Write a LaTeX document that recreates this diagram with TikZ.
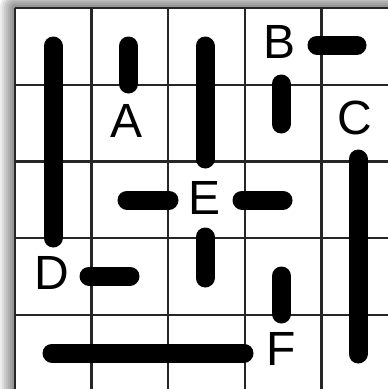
\documentclass[tikz,border=0pt]{standalone}
\usepackage{fontspec}
\setmainfont{Liberation Sans}
\tikzset{
  bar/.style={line width=19pt, line cap=round},
  gridline/.style={line width=2.4pt, black!85},
  lbl/.style={font=\fontsize{48}{48}\selectfont, inner sep=0pt}
}
\begin{document}
\begin{tikzpicture}[x=1pt,y=-1pt]
\useasboundingbox (0,0) rectangle (388,389);
\clip (0,0) rectangle (388,389);
\fill[white] (0,0) rectangle (388,389);
% soft shadow
\foreach \k in {15,13,...,1} {
  \fill[black, opacity=0.07, rounded corners=\k pt] (15-\k,8-\k) rectangle (420,420);
}
\fill[white] (15,8) rectangle (420,420);
% grid
\foreach \i in {0,...,5} {
  \draw[gridline] (15+76.6*\i,8) -- (15+76.6*\i,420);
  \draw[gridline] (15,8+76.7*\i) -- (420,8+76.7*\i);
}
% labels
\node[lbl] (A) at (127,121) {A};
\node[lbl] (B) at (280,42) {B};
\node[lbl] (C) at (355,118) {C};
\node[lbl] (D) at (52,273) {D};
\node[lbl] (E) at (205,198) {E};
\node[lbl] (F) at (281,349) {F};
% bars
\draw[bar] (53,46) -- (53,238);
\draw[bar] (128.5,46) -- (128.5,84);
\draw[bar] (205,46) -- (205,159);
\draw[bar] (317,45) -- (357,45);
\draw[bar] (281,84) -- (281,124);
\draw[bar] (358,159) -- (358,354);
\draw[bar] (127,200) -- (169,200);
\draw[bar] (242,200) -- (283,200);
\draw[bar] (205,237) -- (205,278);
\draw[bar] (89,276) -- (130,276);
\draw[bar] (281.5,276) -- (281.5,314);
\draw[bar] (52,353) -- (244,353);
\end{tikzpicture}
\end{document}
